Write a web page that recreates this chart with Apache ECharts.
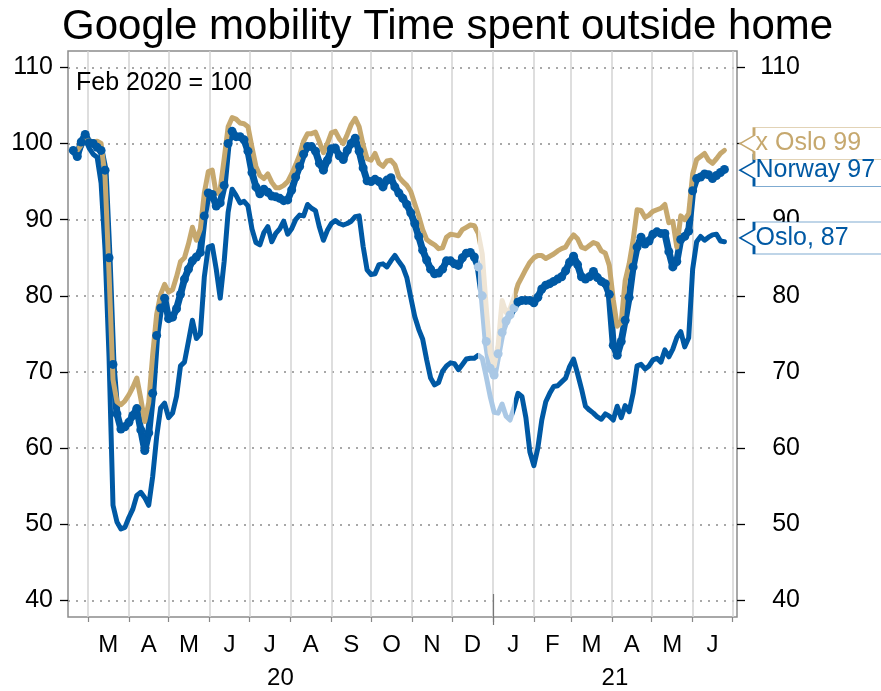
<!DOCTYPE html>
<html>
<head>
<meta charset="utf-8">
<script src="https://cdn.jsdelivr.net/npm/echarts@6/dist/echarts.min.js"></script>
<style>
  html, body { margin: 0; padding: 0; background: #fff; }
  #chart { width: 881px; height: 691px; }
</style>
</head>
<body>
<div id="chart"></div>
<script>
// Google mobility, time spent outside home, index Feb 2020 = 100
// one reading every 3rd day from 19 Feb 2020

const xOslo = [
  null, 99.1, 99.8, 100.5, 100.4, 100.2, 100.3, 100.0, 95.6, 83.0,
  69.0, 66.1, 65.7, 66.2, 67.0, 68.0, 69.2, 66.5, 63.5, 66.0,
  72.3, 77.6, 80.2, 81.5, 80.5, 80.8, 82.5, 84.5, 85.0, 86.8,
  89.0, 87.3, 88.8, 93.5, 96.3, 96.5, 93.4, 94.0, 98.0, 102.2,
  103.4, 103.2, 102.7, 102.6, 102.2, 99.5, 97.0, 95.8, 95.4, 96.0,
  94.9, 94.2, 94.2, 94.5, 95.0, 96.0, 97.2, 98.5, 100.3, 101.3,
  101.3, 101.5, 100.2, 98.8, 100.0, 101.4, 101.6, 100.6, 100.0, 101.2,
  102.5, 103.3, 102.2, 99.8, 98.0, 97.8, 98.7, 97.4, 97.0, 97.7,
  97.8, 97.2, 95.6, 95.0, 94.5, 93.7, 92.1, 90.5, 88.7, 87.4,
  87.0, 86.7, 86.2, 86.3, 87.7, 88.1, 88.0, 87.9, 88.7, 89.0,
  89.3, 89.2, 88.2, 85.5, 78.5, 72.5, 70.8, 73.5, 79.4, 77.8,
  78.3, 79.8, 81.5, 82.5, 83.5, 84.4, 85.0, 85.3, 85.3, 84.9,
  85.2, 85.5, 85.9, 86.2, 86.4, 87.3, 88.0, 87.5, 86.4, 86.2,
  86.6, 87.0, 86.8, 85.9, 85.6, 84.0, 79.5, 76.0, 76.5, 82.0,
  84.2, 87.3, 91.3, 91.2, 90.3, 90.6, 91.1, 91.3, 91.5, 92.0,
  89.6, 89.8, 86.4, 90.5, 90.0, 90.8, 96.0, 97.9, 98.3, 98.7,
  97.8, 97.4, 98.0, 98.7, 99.1
];

const norway = [
  99.1, 98.3, 100.2, 101.2, 100.1, 100.0, 99.5, 99.1, 96.5, 85.0,
  71.0, 64.5, 62.5, 62.8, 63.4, 64.3, 65.2, 62.4, 59.7, 62.0,
  67.2, 74.8, 78.4, 79.7, 77.0, 77.2, 78.3, 80.2, 82.2, 83.5,
  84.6, 85.1, 85.7, 90.5, 93.5, 93.3, 91.8, 92.2, 94.5, 100.0,
  101.6, 100.9, 100.9, 100.5, 99.0, 96.2, 94.3, 93.4, 94.0, 93.6,
  93.1, 93.0, 92.8, 92.5, 92.6, 93.9, 95.6, 97.0, 98.6, 99.6,
  99.6, 99.0, 97.4, 96.5, 97.8, 99.3, 99.4, 98.4, 97.9, 99.1,
  100.0, 100.7, 99.0, 96.8, 95.1, 95.0, 95.3, 95.0, 94.3, 95.2,
  95.5, 94.3, 93.5, 92.8, 92.0, 90.9, 89.5, 87.8, 86.0, 84.7,
  83.5, 82.9, 83.0, 83.5, 84.6, 84.6, 84.2, 84.0, 85.0, 85.6,
  85.7, 85.1, 83.8, 80.0, 74.0, 70.5, 69.6, 72.4, 75.2, 76.7,
  77.5, 78.4, 79.2, 79.4, 79.4, 79.4, 79.1, 79.8, 80.9, 81.4,
  81.6, 81.9, 82.2, 82.5, 83.3, 84.4, 85.2, 84.1, 82.5, 82.2,
  82.5, 83.2, 82.4, 81.9, 81.6, 80.2, 73.5, 72.2, 74.0, 76.8,
  79.8, 83.8, 86.4, 87.7, 86.8, 87.2, 88.1, 88.4, 88.2, 88.2,
  85.8, 83.8, 84.5, 87.4, 87.8, 88.5, 93.8, 95.4, 95.6, 96.0,
  95.9, 95.4, 95.8, 96.2, 96.6
];

const oslo = [
  98.8, 98.5, 99.6, 100.6, 99.4, 98.6, 98.2, 94.8, 86.0, 72.0,
  52.5, 50.3, 49.4, 49.6, 50.9, 52.0, 53.8, 54.2, 53.5, 52.5,
  56.3, 61.5, 65.3, 65.9, 64.0, 64.6, 66.8, 70.8, 71.3, 74.0,
  76.8, 74.4, 75.0, 82.5, 86.4, 86.6, 83.5, 79.7, 84.5, 91.0,
  94.0, 93.2, 92.2, 92.4, 91.8, 88.8, 87.0, 86.7, 88.3, 89.1,
  87.1, 88.2, 88.8, 89.8, 88.1, 88.8, 90.0, 90.6, 90.5, 92.0,
  91.5, 91.2, 89.0, 87.3, 88.6, 89.5, 89.9, 89.5, 89.3, 89.5,
  89.8, 90.4, 90.5, 86.5, 83.4, 82.8, 82.9, 84.1, 84.2, 83.8,
  84.6, 85.3, 84.5, 83.8, 82.4, 79.8, 77.3, 75.6, 74.3, 71.6,
  69.2, 68.3, 68.6, 70.1, 70.8, 71.2, 71.1, 70.3, 71.0, 71.7,
  71.8, 71.8, 72.2, 71.8, 69.4, 66.8, 64.7, 64.6, 65.8, 64.2,
  63.7, 65.3, 67.2, 66.8, 64.0, 59.5, 57.7, 60.0, 63.7, 66.1,
  67.2, 68.1, 68.2, 68.7, 69.2, 70.7, 71.7, 69.8, 67.8, 65.5,
  65.0, 64.6, 64.1, 63.8, 64.5, 64.2, 63.7, 65.5, 64.0, 65.6,
  64.8, 67.2, 70.8, 71.0, 70.4, 70.8, 71.6, 71.8, 71.3, 72.9,
  72.0, 73.0, 74.5, 75.3, 73.3, 74.5, 83.5, 87.1, 87.8, 87.3,
  87.7, 88.0, 88.1, 87.2, 87.1
];

const seriesNames = ['x Oslo', 'Norway', 'Oslo'];
const endLabels = ['x Oslo 99', 'Norway 97', 'Oslo, 87'];
const endLabelAt = [100, 96.5, 87.6];   // where the callout boxes point

const monthLabels = ['M', 'A', 'M', 'J', 'J', 'A', 'S', 'O', 'N', 'D', 'J', 'F', 'M', 'A', 'M', 'J'];
const yearLabels = ['20', '21'];
const yTicks = [40, 50, 60, 70, 80, 90, 100, 110];

const COLORS = {
  xOslo: '#C6A86E',
  xOsloFade: '#EFE5D5',
  blue: '#0059A4',
  blueFade: '#AAC8E5',
  monthLine: '#D3D3D3',
  dotLine: '#8C8C8C',
  frame: '#8C8C8C',
};

const FONT = '"Liberation Sans", Arial, sans-serif';

// ─────────── dates (as ms numbers on a value axis) ───────────
const dates = norway.map((_, i) => new Date(2020, 1, 19 + 3 * i).getTime());
const xMin = new Date(2020, 1, 15).getTime();
const xMax = new Date(2021, 6, 4, 12).getTime();
const fadeFrom = new Date(2020, 11, 21).getTime();
const fadeTo = new Date(2021, 0, 17).getTime();
const yearStart = new Date(2021, 0, 1).getTime();

// month boundaries Mar 2020 .. Jul 2021
const monthStarts = [];
for (let m = 2; m <= 18; m++) monthStarts.push(new Date(2020, m, 1).getTime());
const monthMids = [];
for (let i = 0; i < monthStarts.length - 1; i++) monthMids.push((monthStarts[i] + monthStarts[i + 1]) / 2);
const yearMids = [(xMin + yearStart) / 2, (yearStart + xMax) / 2];

function nearestIndex(arr, v) {
  let best = 0;
  arr.forEach((a, i) => { if (Math.abs(a - v) < Math.abs(arr[best] - v)) best = i; });
  return best;
}

const chart = echarts.init(document.getElementById('chart'), null, { renderer: 'canvas' });

// holiday weeks drawn in a paler shade
function fadeMap(idx, color, fade) {
  return {
    type: 'piecewise', show: false, dimension: 0, seriesIndex: idx,
    pieces: [
      { lt: fadeFrom, color: color },
      { gte: fadeFrom, lte: fadeTo, color: fade },
      { gt: fadeTo, color: color },
    ],
  };
}

function callout(i, color) {
  return {
    silent: true,
    symbol: 'path://M0,16L14,8L14,0L160,0L160,32L14,32L14,24Z',
    symbolSize: [160, 32],
    symbolKeepAspect: false,
    symbolOffset: [83, 0],
    itemStyle: { color: '#fff', borderColor: color, borderWidth: 1.3 },
    label: {
      show: true, position: [17, 16], align: 'left', verticalAlign: 'middle',
      color: color, fontSize: 25, fontFamily: FONT, formatter: endLabels[i],
    },
    data: [{ coord: [xMax, endLabelAt[i]] }],
  };
}

function yAxisDef(pos) {
  return {
    type: 'value', position: pos, min: 37.83, max: 112.15,
    axisLine: { show: false },
    axisTick: { show: true, customValues: yTicks, length: 8, lineStyle: { color: '#000', width: 1.3 } },
    axisLabel: {
      show: true, customValues: yTicks, fontSize: 25, color: '#000', fontFamily: FONT,
      margin: pos === 'left' ? 15 : 63, align: 'right',
    },
    splitLine: pos === 'left'
      ? { show: true, lineStyle: { color: COLORS.dotLine, width: 1.5, type: [2, 6] } }
      : { show: false },
  };
}

function xAxisDef(extra) {
  return Object.assign({
    type: 'value', min: xMin, max: xMax, position: 'bottom',
    axisLine: { show: false }, axisTick: { show: false },
    splitLine: { show: false }, axisLabel: { show: false },
  }, extra);
}

const option = {
  animation: false,
  backgroundColor: '#fff',
  title: [
    {
      text: 'Google mobility Time spent outside home', left: 57, top: 1,
      textStyle: { fontSize: 42, fontWeight: 'normal', color: '#000', fontFamily: FONT },
    },
    {
      text: 'Feb 2020 = 100', left: 71, top: 66,
      textStyle: { fontSize: 25, fontWeight: 'normal', color: '#000', fontFamily: FONT },
    },
  ],
  grid: {
    left: 68, right: 144, top: 51, bottom: 74,
    show: true, borderColor: COLORS.frame, borderWidth: 1.5, backgroundColor: 'transparent',
  },
  xAxis: [
    xAxisDef({
      axisTick: { show: true, customValues: monthStarts, length: 5, lineStyle: { color: '#888', width: 1.2 } },
      splitLine: { show: true, lineStyle: { color: COLORS.monthLine, width: 1.5 } },
      axisLabel: {
        show: true, customValues: monthMids, fontSize: 24, color: '#000', fontFamily: FONT, margin: 16,
        formatter: v => monthLabels[nearestIndex(monthMids, v)],
      },
    }),
    xAxisDef({
      axisLabel: {
        show: true, customValues: yearMids, fontSize: 24, color: '#000', fontFamily: FONT, margin: 49,
        formatter: v => yearLabels[nearestIndex(yearMids, v)],
      },
    }),
    xAxisDef({
      axisTick: { show: true, customValues: [yearStart], length: 8, lineStyle: { color: '#777', width: 1.2 } },
    }),
    xAxisDef({
      axisTick: { show: true, inside: true, customValues: [yearStart], length: 23, lineStyle: { color: '#777', width: 1.2 } },
    }),
  ],
  yAxis: [yAxisDef('left'), yAxisDef('right')],
  visualMap: [
    fadeMap(0, COLORS.blue, COLORS.blueFade),
    fadeMap(1, COLORS.blue, COLORS.blueFade),
    fadeMap(2, COLORS.xOslo, COLORS.xOsloFade),
  ],
  series: [
    {
      name: seriesNames[2], type: 'line',
      data: oslo.map((v, i) => [dates[i], v]),
      showSymbol: false, symbol: 'none',
      lineStyle: { width: 5, join: 'round', cap: 'round' },
      markPoint: callout(2, COLORS.blue),
    },
    {
      name: seriesNames[1], type: 'line',
      data: norway.map((v, i) => [dates[i], v]),
      symbol: 'circle', symbolSize: 9, showSymbol: true, showAllSymbol: true,
      lineStyle: { width: 7, join: 'round', cap: 'round' },
      itemStyle: { borderWidth: 0 },
      markPoint: callout(1, COLORS.blue),
    },
    {
      name: seriesNames[0], type: 'line',
      data: xOslo.map((v, i) => [dates[i], v]),
      showSymbol: false, symbol: 'none',
      lineStyle: { width: 5, join: 'round', cap: 'round' },
      markPoint: callout(0, COLORS.xOslo),
    },
  ],
};

chart.setOption(option);
</script>
</body>
</html>
